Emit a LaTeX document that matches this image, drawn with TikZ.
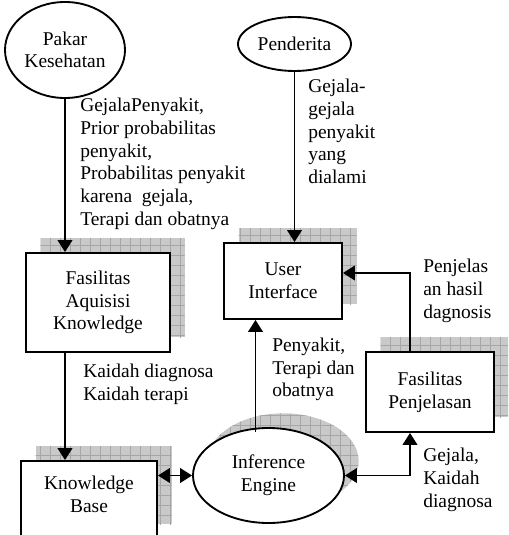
\documentclass[tikz,border=0pt]{standalone}
\usepackage{fontspec}
\setmainfont{Liberation Serif}
\usetikzlibrary{shapes.geometric, shadows, patterns.meta, arrows.meta, calc}
\newcommand{\diagfont}{\fontsize{14.6pt}{17pt}\selectfont}
\tikzset{>={Triangle[length=9pt,width=11pt]}}
\tikzset{
  gridshadow/.style={
    general shadow={shadow xshift=11pt, shadow yshift=11pt, draw=none, fill=gray!42},
    general shadow={shadow xshift=11pt, shadow yshift=11pt, draw=none,
      pattern={Lines[angle=0,distance=7.5pt,line width=0.4pt]}, pattern color=gray!70},
    general shadow={shadow xshift=11pt, shadow yshift=11pt, draw=none,
      pattern={Lines[angle=90,distance=7.5pt,line width=0.4pt]}, pattern color=gray!70}},
  box/.style={rectangle, draw, line width=1.4pt, fill=white, align=center, font=\diagfont},
  oval/.style={ellipse, draw, line width=1.4pt, fill=white, align=center, inner sep=0pt, font=\diagfont},
  note/.style={anchor=west, align=left, inner sep=0pt, font=\diagfont},
  flow/.style={->, line width=1.4pt}
}

\begin{document}
\begin{tikzpicture}[x=0.75pt, y=-0.75pt]
\useasboundingbox (0,0) rectangle (508,535);
\clip (0,0) rectangle (508,535);

% actors
\node[oval, minimum width=90pt, minimum height=72pt] (pakar) at (65,50) {Pakar\\Kesehatan};
\node[oval, minimum width=84.75pt, minimum height=40.5pt] (penderita) at (294.5,44) {Penderita};

% components
\node[box, gridshadow, minimum width=108pt, minimum height=74.25pt] (aquisisi) at (98,302.5) {Fasilitas\\Aquisisi\\Knowledge};
\node[box, gridshadow, minimum width=88.5pt, minimum height=57pt] (ui) at (283,281) {User\\Interface};
\node[box, gridshadow, minimum width=96pt, minimum height=60pt] (pj) at (430,392) {Fasilitas\\Penjelasan};
\node[box, gridshadow, minimum width=102pt, minimum height=58.5pt] (kb) at (89,500) {};
\node[box, draw=none, fill=none] (kbtext) at (89,494.5) {Knowledge\\Base};
\node[oval, gridshadow, minimum width=113.25pt, minimum height=71.25pt] (ie) at (268.5,475.5) {Inference\\Engine};

% flows
\draw[flow] (pakar.south) -- (pakar.south |- aquisisi.north);
\draw[flow] (penderita.south) -- (penderita.south |- ui.north);
\draw[flow] (pakar.south |- aquisisi.south) -- (pakar.south |- kb.north);
\draw[<->, line width=1.4pt] (kb.east |- ie.west) -- (ie.west);
\coordinate (iefoot) at ($(ie.north)+(-13,5)$);
\draw[flow] (iefoot) -- (iefoot |- ui.south);
\coordinate (pjtop) at ($(pj.north)+(-20,0)$);
\draw[flow] (pjtop) |- ($(ui.east)+(0,-8)$);
\coordinate (pjfoot) at ($(pj.south)+(-20,0)$);
\draw[<->, line width=1.4pt] (ie.east) -| (pjfoot);

% labels
\node[note] (datapakar) at (80,164) {GejalaPenyakit,\\Prior probabilitas\\penyakit,\\Probabilitas penyakit\\karena~ gejala,\\Terapi dan obatnya};
\node[note] (datapasien) at (308,131.5) {Gejala-\\gejala\\penyakit\\yang\\dialami};
\node[note] (datakaidah) at (83,384) {Kaidah diagnosa\\Kaidah terapi};
\node[note] (datahasil) at (272,369.5) {Penyakit,\\Terapi dan\\obatnya};
\node[note] (datapenjelas) at (423,291) {Penjelas\\an hasil\\dagnosis};
\node[note] (datagejala) at (423,480) {Gejala,\\Kaidah\\diagnosa};
\end{tikzpicture}
\end{document}
